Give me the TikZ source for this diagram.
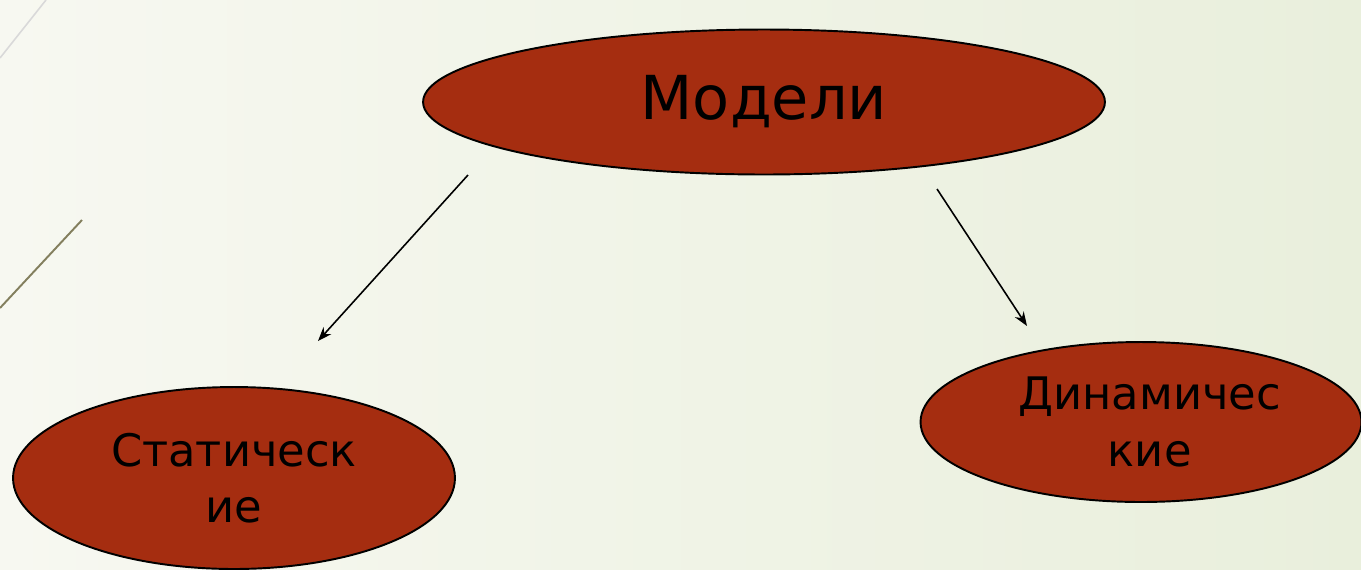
\documentclass[tikz,border=0pt]{standalone}
\usepackage{fontspec}
\setmainfont{DejaVu Sans}
\usetikzlibrary{shapes.geometric,arrows.meta}
\definecolor{rust}{RGB}{165,45,16}
\definecolor{bgleft}{RGB}{247,248,241}
\definecolor{bgright}{RGB}{233,239,220}
\tikzset{
  model/.style={ellipse,draw=black,line width=1.1pt,fill=rust,inner sep=0pt,
    align=center,font=\fontsize{25.5}{32}\selectfont},
  link/.style={line width=0.9pt,-{Stealth[length=8pt,width=6pt]}}
}
\begin{document}
\begin{tikzpicture}[x=0.02cm,y=-0.02cm]
  % page and its pale background
  \useasboundingbox (0,0) rectangle (1361,569);
  \shade[left color=bgleft,right color=bgright] (0,0) rectangle (1361,569);
  \draw[line width=0.9pt,color=black!15] (0,58) -- (46,0);
  \draw[line width=1.1pt,color=black!60!olive!70] (0,308) -- (82,220);
  % the three models
  \node[model,minimum width=13.64cm,minimum height=2.9cm,
    font=\fontsize{34.5}{40}\selectfont] (models) at (764,102) {Модели};
  \node[model,minimum width=8.84cm,minimum height=3.64cm] (static) at (234,478)
    {Статическ\\ие};
  \node[model,minimum width=8.82cm,minimum height=3.2cm] (dynamic) at (1141,422)
    {\hspace*{10pt}Динамичес\\\hspace*{10pt}кие};
  % arrows stop short of the ellipses
  \coordinate (fromL) at (468,175);
  \coordinate (toL) at (318,341);
  \coordinate (fromR) at (937,189);
  \coordinate (toR) at (1027,326);
  \draw[link] (fromL) -- (toL);
  \draw[link] (fromR) -- (toR);
\end{tikzpicture}
\end{document}
